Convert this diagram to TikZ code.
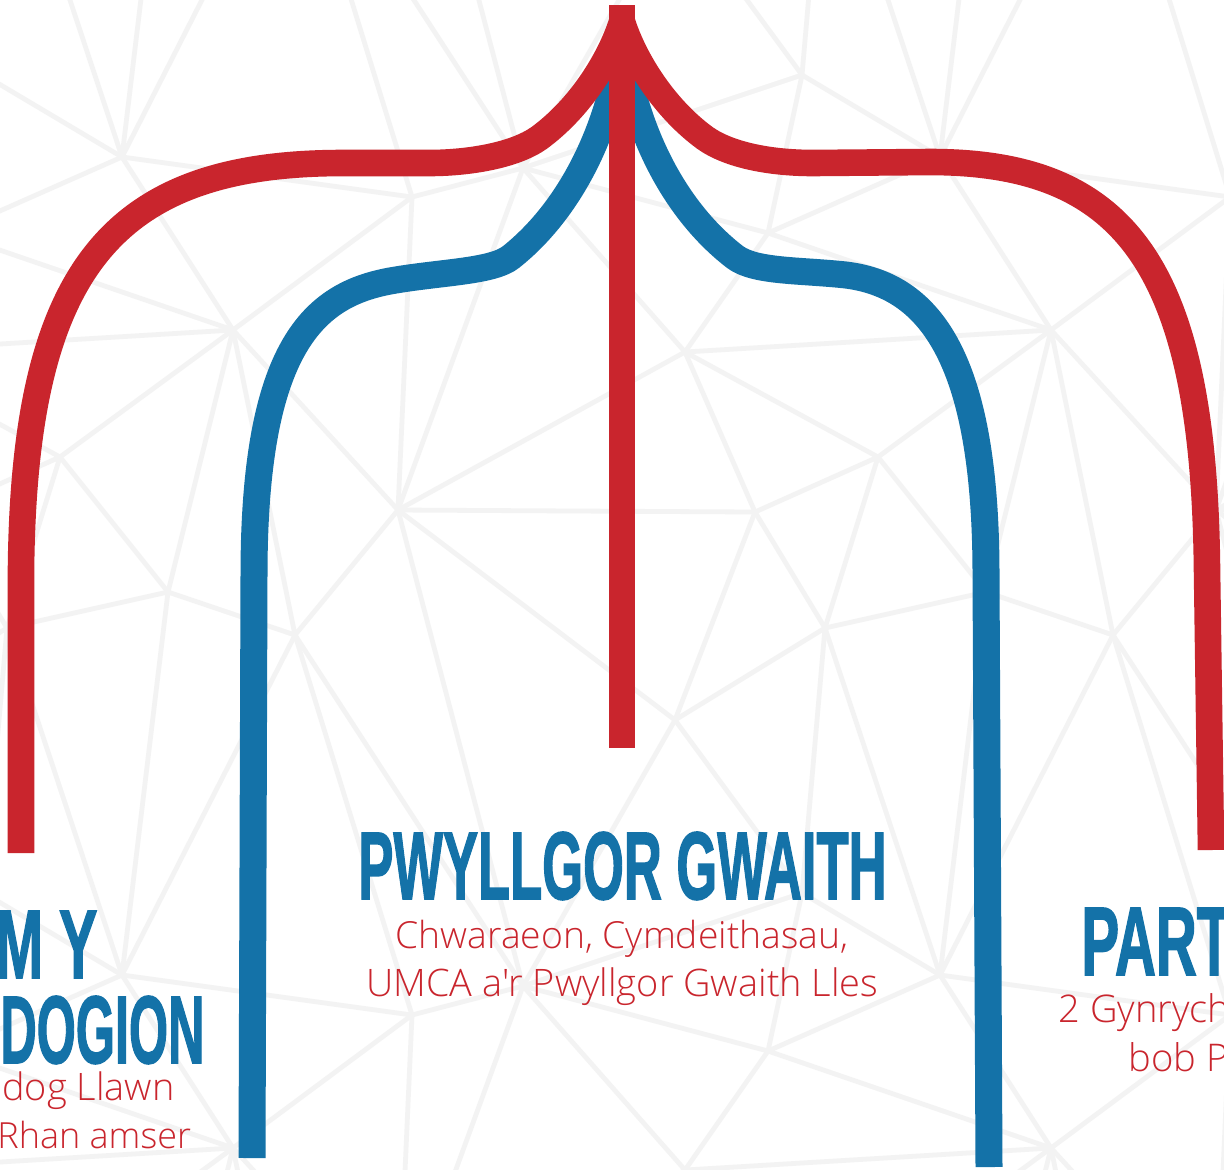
\documentclass[tikz,border=0pt]{standalone}
\usepackage{graphicx}
\usepackage{fontspec}
\newfontfamily\subfont{Open Sans Light}
\newfontfamily\headfont[FakeBold=1.8]{Liberation Sans Bold}
\definecolor{umred}{HTML}{C9252D}
\definecolor{umblue}{HTML}{1472A8}
\definecolor{meshgrey}{HTML}{F3F3F3}
\def\meshedges{802/75/940/157,802/75/768/233,802/75/523/168,122/157/412/197,122/157/233/330,412/197/523/168,412/197/233/330,412/197/398/510,523/168/768/233,523/168/685/352,523/168/398/510,768/233/685/352,768/233/1051/330,768/233/940/157,233/330/60/457,233/330/168/592,233/330/295/635,233/330/398/510,685/352/398/510,685/352/755/512,685/352/878/457,685/352/1051/330,60/457/168/592,60/457/7/628,398/510/755/512,398/510/295/635,398/510/675/720,398/510/523/986,755/512/675/720,755/512/825/628,755/512/878/457,168/592/7/628,168/592/295/635,168/592/122/975,295/635/122/975,295/635/523/986,295/635/412/1015,7/628/122/975,7/628/-16/893,825/628/675/720,675/720/802/893,675/720/523/986}
\tikzset{
  meshline/.style={draw=meshgrey,line width=2.4pt},
  redline/.style={draw=umred,line width=13.3pt},
  centreline/.style={draw=umred,line width=13pt},
  blueline/.style={draw=umblue,line width=13.5pt},
  headtext/.style={text=umblue,inner sep=0pt,anchor=base west,font=\headfont},
  subtext/.style={text=umred,inner sep=0pt,anchor=base west,font=\subfont\fontsize{18}{20}\selectfont},
}
\begin{document}
\begin{tikzpicture}[x=0.5pt,y=-0.5pt]
\useasboundingbox (0,0) rectangle (1224,1169);
\clip (0,0) rectangle (1224,1169);
\fill[white] (0,0) rectangle (1224,1169);
\foreach \dx in {-818,0,818}{\foreach \dy in {-818,0,818}{
  \begin{scope}[shift={(\dx,\dy)}]
  \foreach \xa/\ya/\xb/\yb in \meshedges {\draw[meshline] (\xa,\ya) -- (\xb,\yb);}
  \end{scope}}}
\coordinate (top) at (622,5);
\coordinate (branchroot) at (622,22);
\coordinate (blueroot) at (622,40);
\coordinate (cend) at (622,748);
\coordinate (rlend) at (21,853);
\coordinate (rrend) at (1211,850);
\coordinate (blend) at (252,1158);
\coordinate (brend) at (989,1167);
% blue branches
\draw[blueline] (blueroot) .. controls (610,130) and (570,210) .. (511,257) .. controls (492,272) and (440,272) .. (390,281) .. controls (315,295) and (254,345) .. (254,575) -- (blend);
\draw[blueline] (blueroot) .. controls (634,130) and (674,210) .. (735,257) .. controls (755,272) and (800,270) .. (846,275) .. controls (925,285) and (986,350) .. (986,575) -- (brend);
% red branches
\draw[redline] (branchroot) .. controls (610,60) and (580,108) .. (539,138) .. controls (515,155) and (470,163) .. (429,163) -- (343,163) .. controls (115,163) and (24,265) .. (21,570) -- (rlend);
\draw[redline] (branchroot) .. controls (634,60) and (664,108) .. (705,138) .. controls (729,155) and (770,163) .. (813,163) -- (930,162) .. controls (1125,162) and (1204,265) .. (1207,570) -- (rrend);
\draw[centreline] (top) -- (cend);
% headings
\node[headtext] (pg) at (358,899) {\resizebox{264pt}{33.5pt}{PWYLLGOR GWAITH}};
\node[headtext] (my) at (-5,978) {\resizebox{51pt}{33.5pt}{M Y}};
\node[headtext] (dog) at (0,1063) {\resizebox{102pt}{33.5pt}{DOGION}};
\node[headtext] (part) at (1081,975) {\resizebox{75pt}{33.5pt}{PART}};
% sub lines
\node[subtext] (c1) at (395,948) {\resizebox{226.5pt}{!}{Chwaraeon, Cymdeithasau,}};
\node[subtext] (c2) at (366,996) {\resizebox{256pt}{!}{UMCA a'r Pwyllgor Gwaith Lles}};
\node[subtext] (l1) at (2,1100) {\resizebox{86pt}{!}{dog Llawn}};
\node[subtext] (l2) at (-3,1148) {Rhan amser};
\node[subtext] (r1) at (1058,1022) {\resizebox{86pt}{!}{2 Gynrych}};
\node[subtext] (r2) at (1128,1071) {\resizebox{50pt}{!}{bob P}};
\end{tikzpicture}
\end{document}
